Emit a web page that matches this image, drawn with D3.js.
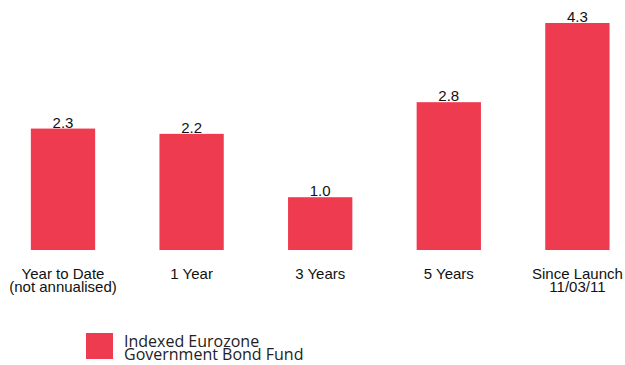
<!DOCTYPE html>
<html>
<head>
<meta charset="utf-8">
<script src="https://cdn.jsdelivr.net/npm/d3@7"></script>
<style>
  html, body { margin: 0; padding: 0; background: #fff; }
  svg { display: block; }
</style>
</head>
<body>
<svg id="chart" width="625" height="365"></svg>
<script>
// Fund performance by period (%)
const categories = [
  ["Year to Date", "(not annualised)"],
  ["1 Year"],
  ["3 Years"],
  ["5 Years"],
  ["Since Launch", "11/03/11"]
];
const values = [2.3, 2.2, 1.0, 2.8, 4.3];
const seriesName = ["Indexed Eurozone", "Government Bond Fund"];
const barColor = "#ef3b50";

const svg = d3.select("#chart");
const baseline = 250;

const keys = categories.map((c, i) => i);
const x = d3.scaleBand()
  .domain(keys)
  .range([-1.3, 641.7])
  .paddingInner(0.5)
  .paddingOuter(0.25);

const y = d3.scaleLinear()
  .domain([0, 4.3])
  .range([baseline, 23]);

// Bars
svg.append("g").selectAll("rect")
  .data(values)
  .join("rect")
  .attr("x", (d, i) => x(i))
  .attr("width", x.bandwidth())
  .attr("y", d => y(d))
  .attr("height", d => y(0) - y(d))
  .attr("fill", barColor);

// Value labels above bars
svg.append("g").selectAll("text")
  .data(values)
  .join("text")
  .attr("x", (d, i) => x(i) + x.bandwidth() / 2)
  .attr("y", d => y(d) - 1)
  .attr("text-anchor", "middle")
  .attr("font-family", "Liberation Sans, Arial, sans-serif")
  .attr("font-size", 15)
  .attr("fill", "#111")
  .text(d => d.toFixed(1));

// Category axis labels (no axis line)
const xAxis = d3.axisBottom(x).tickSize(0).tickFormat(() => "");
const axisG = svg.append("g")
  .attr("transform", `translate(0,${baseline})`)
  .call(xAxis);
axisG.select(".domain").remove();
axisG.selectAll(".tick").each(function(i) {
  const t = d3.select(this).append("text")
    .attr("text-anchor", "middle")
    .attr("font-family", "Liberation Sans, Arial, sans-serif")
    .attr("font-size", 15)
    .attr("fill", "#111");
  categories[i].forEach((line, k) => {
    t.append("tspan").attr("x", 0).attr("y", 29 + k * 13).text(line);
  });
});

// Legend
const legend = svg.append("g").attr("transform", "translate(86,333)");
legend.append("rect")
  .attr("width", 27).attr("height", 26)
  .attr("fill", barColor);
const lt = legend.append("text")
  .attr("font-family", "Open Sans, Noto Sans, sans-serif")
  .attr("font-size", 16)
  .attr("fill", "#222");
seriesName.forEach((line, k) => {
  lt.append("tspan").attr("x", 38).attr("y", 14 + k * 13).text(line);
});
</script>
</body>
</html>
